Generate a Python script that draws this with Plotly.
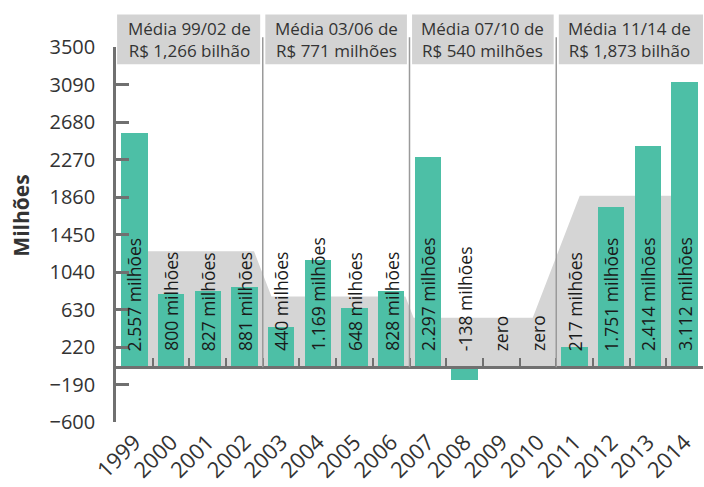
import plotly.graph_objects as go

years = ["1999", "2000", "2001", "2002", "2003", "2004", "2005", "2006",
         "2007", "2008", "2009", "2010", "2011", "2012", "2013", "2014"]
values = [2557, 800, 827, 881, 440, 1169, 648, 828,
          2297, -138, 0, 0, 217, 1751, 2414, 3112]
group_starts = [0, 4, 8, 12]
group_labels = ["Média 99/02 de<br>R$ 1,266 bilhão",
                "Média 03/06 de<br>R$ 771 milhões",
                "Média 07/10 de<br>R$ 540 milhões",
                "Média 11/14 de<br>R$ 1,873 bilhão"]
y_ticks = [-600, -190, 220, 630, 1040, 1450, 1860, 2270, 2680, 3090, 3500]

TEAL = "#4DBFA6"
GREY_BAND = "#D5D5D5"
GREY_BOX = "#D3D3D3"
AXIS = "#707070"
FONT = "Open Sans"

n = len(values)
x = list(range(n))

def fmt(v):
    if v == 0:
        return "zero"
    return f"{v:,}".replace(",", ".") + " milhões"

# group averages
groups = []
for gi, s in enumerate(group_starts):
    e = group_starts[gi + 1] if gi + 1 < len(group_starts) else n
    avg = sum(values[s:e]) / (e - s)
    groups.append((s, e - 1, avg))

# grey average band polygon (drawn below the bars)
bx, by = [], []
for gi, (s, e, avg) in enumerate(groups):
    left = s
    right = e
    if gi > 0:
        prev = groups[gi - 1][2]
        hw = abs(avg - prev) * 0.00048
        left = s - 0.5 + hw
    if gi + 1 < len(groups):
        nxt = groups[gi + 1][2]
        hw = abs(nxt - avg) * 0.00048
        right = e + 0.5 - hw
    bx += [left, right]
    by += [avg, avg]
path = f"M {bx[0]},0 " + " ".join(f"L {a},{b}" for a, b in zip(bx, by)) + f" L {bx[-1]},0 Z"

fig = go.Figure()
fig.add_shape(type="path", path=path, xref="x", yref="y", fillcolor=GREY_BAND,
              line=dict(width=0), layer="below")
fig.add_trace(go.Bar(x=x, y=values, width=0.72, marker=dict(color=TEAL, line=dict(width=0)),
                     showlegend=False))
# helper trace for the zero-line axis
fig.add_trace(go.Scatter(x=[0], y=[0], xaxis="x2", mode="markers",
                         marker=dict(opacity=0), hoverinfo="skip", showlegend=False))

for i, v in enumerate(values):
    fig.add_annotation(x=i, y=0, xref="x", yref="y", text=fmt(v), textangle=-90,
                       showarrow=False, yanchor="bottom", xanchor="center", yshift=14,
                       font=dict(family=FONT, size=17.5, color="#1a1a1a"))

# header boxes, texts and divider lines
for gi, (s, e, avg) in enumerate(groups):
    x0 = s - 0.5 + (0.07 if gi > 0 else 0.03)
    x1 = e + 0.5 - (0.07 if gi + 1 < len(groups) else 0)
    fig.add_shape(type="rect", xref="x", yref="paper", x0=x0, x1=x1, y0=0.954, y1=1.087,
                  fillcolor=GREY_BOX, line=dict(width=0), layer="above")
    fig.add_annotation(x=(s + e) / 2, y=1.02, xref="x", yref="paper", text=group_labels[gi],
                       showarrow=False, xanchor="center", yanchor="middle",
                       font=dict(family=FONT, size=17, color="#333333"))
    if gi > 0:
        fig.add_shape(type="line", xref="x", yref="paper", x0=s - 0.5, x1=s - 0.5,
                      y0=0.1463, y1=1.026, line=dict(color="#9a9a9a", width=1.5), layer="above")

fig.add_annotation(x=-0.162, y=0.55, xref="paper", yref="paper", text="<b>Milhões</b>",
                   textangle=-90, showarrow=False, xanchor="center", yanchor="middle",
                   font=dict(family=FONT, size=21, color="#333333"))

fig.update_layout(
    width=704, height=487,
    margin=dict(l=116, r=1, t=47, b=65),
    paper_bgcolor="white", plot_bgcolor="white",
    font=dict(family=FONT, color="#333333"),
    bargap=0,
    xaxis=dict(range=[-0.5, 15.5], tickvals=x, ticktext=years, tickangle=-45,
               showline=False, showgrid=False, zeroline=False, ticks="",
               ticklabelstandoff=2, automargin=False,
               tickfont=dict(size=22, color="#333333")),
    xaxis2=dict(range=[-0.5, 15.5], overlaying="x", anchor="free", position=600 / 4100,
                showline=True, linecolor=AXIS, linewidth=2.5, showgrid=False, zeroline=False,
                ticks="inside", ticklen=8, tickwidth=2, tickcolor=AXIS,
                tickvals=[i + 0.5 for i in range(n - 1)], showticklabels=False),
    yaxis=dict(range=[-600, 3500], tickvals=y_ticks, showgrid=False, zeroline=False,
               showline=True, linecolor=AXIS, linewidth=2.5,
               ticks="inside", ticklen=13, tickwidth=2.5, tickcolor=AXIS,
               ticklabelstandoff=14, automargin=False,
               tickfont=dict(size=20, color="#333333")),
)

fig.write_html("out.html")
